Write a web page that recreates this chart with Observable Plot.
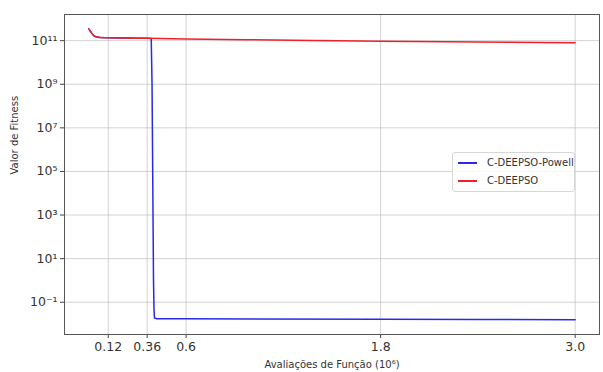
<!DOCTYPE html>
<html>
<head>
<meta charset="utf-8">
<script src="https://cdn.jsdelivr.net/npm/d3@7"></script>
<script src="https://cdn.jsdelivr.net/npm/@observablehq/plot@0.6"></script>
<style>
  html, body { margin: 0; padding: 0; background: #fff; }
  #wrap { position: relative; width: 603px; height: 372px; font-family: "DejaVu Sans", sans-serif; }
  #legend { position: absolute; left: 452px; top: 152px; width: 123px; height: 40px; border: 1px solid #d6d6d6; border-radius: 3px; background: rgba(255,255,255,0.85); font-size: 10px; color: #333; box-sizing: border-box; }
  .item { position: absolute; left: 5px; height: 12px; line-height: 12px; }
  .sw { position: absolute; left: 0; top: 5px; width: 19px; height: 2px; }
  .lab { position: absolute; left: 29px; top: 0; white-space: nowrap; }
</style>
</head>
<body>
<div id="wrap"></div>
<script>
// Function evaluations (x 10^6)
const redX = [0, 0.01, 0.02, 0.03, 0.045, 0.07, 0.12, 0.2, 0.36, 0.6, 1.0, 1.4, 1.8, 2.2, 2.6, 3.0];
const redY = [3.5e11, 2.7e11, 2.1e11, 1.7e11, 1.5e11, 1.4e11, 1.36e11, 1.32e11, 1.28e11, 1.2e11, 1.1e11, 1.02e11, 9.5e10, 8.9e10, 8.4e10, 8.0e10];

const blueX = [0, 0.01, 0.02, 0.03, 0.045, 0.07, 0.12, 0.2, 0.36, 0.385, 0.39, 0.393, 0.396, 0.399, 0.402, 0.405, 0.42, 0.6, 1.0, 1.8, 2.4, 3.0];
const blueY = [3.5e11, 2.7e11, 2.1e11, 1.7e11, 1.5e11, 1.4e11, 1.36e11, 1.32e11, 1.28e11, 1.25e11, 1e9, 1e6, 1e3, 1, 0.05, 0.019, 0.0175, 0.0174, 0.0172, 0.0168, 0.0162, 0.0157];

const seriesNames = ["C-DEEPSO-Powell", "C-DEEPSO"];
const seriesColors = ["#2a2ae6", "#f0202a"];

const xTicks = [0.12, 0.36, 0.6, 1.8, 3.0];
const xTickLabels = ["0.12", "0.36", "0.6", "1.8", "3.0"];
const yTicks = [1e-1, 1e1, 1e3, 1e5, 1e7, 1e9, 1e11];
const yTickLabels = ["10\u207B\u00B9", "10\u00B9", "10\u00B3", "10\u2075", "10\u2077", "10\u2079", "10\u00B9\u00B9"];

const xLabel = "Avaliações de Função (10\u2076)";
const yLabel = "Valor de Fitness";

const blue = blueX.map((x, i) => ({x, y: blueY[i], s: seriesNames[0]}));
const red = redX.map((x, i) => ({x, y: redY[i], s: seriesNames[1]}));

const chart = Plot.plot({
  width: 603,
  height: 372,
  marginLeft: 64,
  marginRight: 4,
  marginTop: 14,
  marginBottom: 38,
  style: {fontFamily: "DejaVu Sans, sans-serif", fontSize: "12px", color: "#333", background: "#fff"},
  x: {domain: [-0.15, 3.15]},
  y: {type: "log", domain: [Math.pow(10, -2.48), Math.pow(10, 12.2)]},
  marks: [
    Plot.gridX(xTicks, {stroke: "#b8b8b8", strokeOpacity: 0.8, strokeWidth: 0.8}),
    Plot.gridY(yTicks, {stroke: "#b8b8b8", strokeOpacity: 0.8, strokeWidth: 0.8}),
    Plot.axisX(xTicks, {tickSize: 4, tickPadding: 4, tickFormat: (d) => xTickLabels[xTicks.indexOf(d)], fontSize: 12.5, stroke: "#444", label: null}),
    Plot.axisY(yTicks, {tickSize: 4, tickPadding: 3, tickFormat: (d) => yTickLabels[yTicks.indexOf(d)], fontSize: 12.5, stroke: "#444", label: null}),
    Plot.text([xLabel], {frameAnchor: "bottom", dy: 33, fontSize: 10, fill: "#333"}),
    Plot.text([yLabel], {frameAnchor: "left", rotate: -90, dx: -50, fontSize: 10, fill: "#333"}),
    Plot.line(blue, {x: "x", y: "y", stroke: seriesColors[0], strokeWidth: 1.5}),
    Plot.line(red, {x: "x", y: "y", stroke: seriesColors[1], strokeWidth: 1.5, curve: "monotone-x"}),
    Plot.frame({stroke: "#555", strokeWidth: 1})
  ]
});

const wrap = document.getElementById("wrap");
wrap.appendChild(chart);

const legend = document.createElement("div");
legend.id = "legend";
seriesNames.forEach((name, i) => {
  const item = document.createElement("div");
  item.className = "item";
  item.style.top = (4 + i * 18) + "px";
  const sw = document.createElement("span");
  sw.className = "sw";
  sw.style.background = seriesColors[i];
  const lab = document.createElement("span");
  lab.className = "lab";
  lab.textContent = name;
  item.appendChild(sw);
  item.appendChild(lab);
  legend.appendChild(item);
});
wrap.appendChild(legend);
</script>
</body>
</html>
